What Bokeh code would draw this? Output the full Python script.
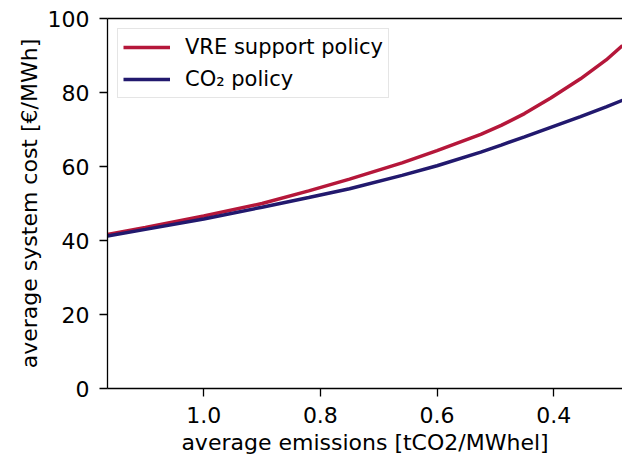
from bokeh.plotting import figure
from bokeh.models import Range1d, FixedTicker, LinearAxis, Legend, LegendItem
from bokeh.embed import file_html
from bokeh.resources import INLINE

# Data
emissions = [1.165, 1.10, 1.00, 0.90, 0.82, 0.75, 0.66, 0.60, 0.525, 0.49, 0.45, 0.405, 0.354, 0.31, 0.282]
vre_cost = [41.6, 43.5, 46.6, 50.0, 53.4, 56.6, 61.0, 64.3, 68.7, 71.1, 74.3, 78.5, 83.7, 88.8, 92.7]
co2_cost = [41.2, 43.0, 45.8, 49.0, 51.6, 54.0, 57.6, 60.2, 63.9, 65.8, 68.0, 70.6, 73.5, 76.1, 77.9]
x_ticks = [1.0, 0.8, 0.6, 0.4]
y_ticks = [0, 20, 40, 60, 80, 100]

FONT = "DejaVu Sans"
FS = "22px"

p = figure(frame_width=515, frame_height=370, output_backend="svg", toolbar_location=None,
           x_range=Range1d(1.165, 0.282), y_range=Range1d(0, 100))
p.min_border_left = 107
p.min_border_right = 0
p.min_border_top = 18
p.min_border_bottom = 0
p.outline_line_color = None
p.xgrid.visible = False
p.ygrid.visible = False
p.background_fill_color = "white"

r1 = p.line(emissions, vre_cost, line_color="#b5173a", line_width=3.5)
r2 = p.line(emissions, co2_cost, line_color="#22196e", line_width=3.5)

for ax in (p.xaxis[0], p.yaxis[0]):
    ax.axis_line_width = 1.3
    ax.major_tick_line_width = 1.3
    ax.major_tick_out = 8
    ax.major_tick_in = 0
    ax.minor_tick_line_color = None
    ax.major_label_text_font = FONT
    ax.major_label_text_font_size = FS
    ax.major_label_text_color = "black"
    ax.axis_label_text_font = FONT
    ax.axis_label_text_font_size = FS
    ax.axis_label_text_font_style = "normal"
    ax.axis_label_text_color = "black"

p.xaxis[0].ticker = FixedTicker(ticks=x_ticks)
p.xaxis[0].major_label_overrides = {t: f"{t:.1f}" for t in x_ticks}
p.xaxis[0].axis_label = "average emissions [tCO2/MWhel]"
p.xaxis[0].major_label_standoff = 10
p.xaxis[0].axis_label_standoff = 4

p.yaxis[0].ticker = FixedTicker(ticks=y_ticks)
p.yaxis[0].axis_label = "average system cost [€/MWh]"
p.yaxis[0].major_label_standoff = 10
p.yaxis[0].axis_label_standoff = 3

top = LinearAxis(ticker=FixedTicker(ticks=[]), axis_line_width=1.3,
                 major_tick_line_color=None, minor_tick_line_color=None,
                 major_tick_out=0, major_label_standoff=0)
p.add_layout(top, "above")

legend = Legend(items=[LegendItem(label="VRE support policy", renderers=[r1]),
                       LegendItem(label="CO₂ policy", renderers=[r2])],
                location="top_left", margin=10, padding=5, spacing=6,
                glyph_width=47, glyph_height=26, label_height=26, label_standoff=15,
                label_text_font=FONT, label_text_font_size="21px",
                label_text_color="black",
                border_line_color="#cccccc", border_line_width=1,
                background_fill_alpha=0.8)
p.add_layout(legend, "center")

open("out.html", "w").write(file_html(p, INLINE))
